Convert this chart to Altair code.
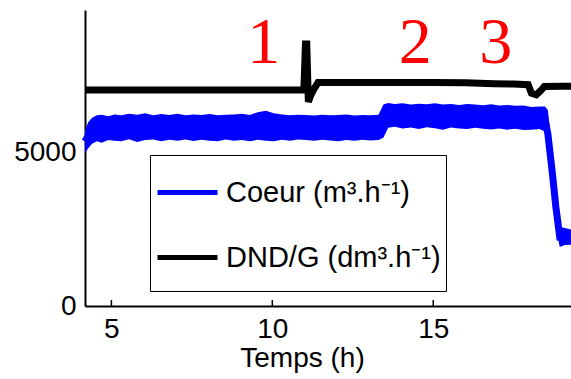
import altair as alt
import pandas as pd

# ---------------- data ----------------
t_blue = [4.18, 4.28, 4.40, 4.55, 4.70, 4.90, 5.10, 5.30, 5.55, 5.80, 6.05, 6.30,
          6.55, 6.80, 7.05, 7.30, 7.55, 7.80, 8.05, 8.30, 8.55, 8.80, 9.05, 9.30,
          9.55, 9.80, 10.05, 10.30, 10.55, 10.80, 11.05, 11.30, 11.55, 11.80, 12.05,
          12.30, 12.55, 12.80, 13.05, 13.30, 13.45, 13.60, 13.80, 14.05, 14.30, 14.55,
          14.80, 15.05, 15.30, 15.55, 15.80, 16.05, 16.30, 16.55, 16.80, 17.05, 17.30,
          17.55, 17.80, 18.05, 18.30, 18.47, 18.56, 18.69, 18.81, 18.93, 19.09, 19.28]
blue_top = [5750, 6000, 6150, 6230, 6250, 6200, 6260, 6230, 6280, 6250, 6300, 6230,
            6270, 6240, 6280, 6230, 6260, 6240, 6270, 6230, 6250, 6260, 6280, 6240,
            6330, 6380, 6300, 6260, 6230, 6250, 6240, 6220, 6250, 6230, 6240,
            6260, 6220, 6240, 6230, 6250, 6580, 6630, 6600, 6620, 6580, 6610,
            6590, 6620, 6580, 6600, 6570, 6600, 6580, 6560, 6590, 6550, 6570,
            6540, 6550, 6500, 6520, 6520, 6400, 5200, 3890, 2580, 2550, 2500]
blue_bottom = [5000, 5150, 5300, 5380, 5330, 5420, 5400, 5380, 5450, 5360, 5420, 5440,
               5380, 5430, 5400, 5440, 5390, 5430, 5400, 5380, 5440, 5400, 5420, 5380,
               5430, 5400, 5380, 5430, 5400, 5440, 5420, 5400, 5430, 5410, 5380,
               5420, 5400, 5430, 5410, 5420, 5500, 5820, 5860, 5800, 5830, 5780,
               5840, 5810, 5760, 5830, 5800, 5780, 5820, 5790, 5770, 5800, 5760,
               5790, 5750, 5760, 5780, 5700, 4870, 3690, 2580, 1930, 1990, 2000]

t_black = [4.18, 5.0, 6.0, 7.0, 8.0, 9.0, 10.0, 10.98, 11.03, 11.07, 11.12, 11.20,
           11.30, 11.42, 12.0, 13.0, 14.0, 15.0, 16.0, 16.9, 17.5, 17.95, 18.05, 18.2,
           18.35, 18.45, 19.0, 19.28]
v_black = [7060, 7060, 7060, 7060, 7060, 7060, 7060, 7060, 8560, 8560, 6670, 6900,
           7100, 7300, 7300, 7300, 7300, 7300, 7290, 7260, 7250, 7230, 6950, 6900,
           7050, 7170, 7180, 7180]

series_names = ["Coeur (m³.h⁻¹)", "DND/G (dm³.h⁻¹)"]
series_colors = ["#0000ff", "#000000"]

ann_text = ["1", "2", "3"]
ann_t = [9.73, 14.44, 16.94]
ann_v = [7950, 7950, 7950]

x_ticks = [5, 10, 15]
y_ticks = [0, 5000]
x_domain = [4.18, 19.28]
y_domain = [0, 9670]

# ---------------- tables ----------------
band = pd.DataFrame({"t": t_blue, "top": blue_top, "bottom": blue_bottom})
lines = pd.concat([
    pd.DataFrame({"t": t_blue,
                  "v": [(a + b) / 2 for a, b in zip(blue_top, blue_bottom)],
                  "s": series_names[0]}),
    pd.DataFrame({"t": t_black, "v": v_black, "s": series_names[1]}),
])
ann = pd.DataFrame({"t": ann_t, "v": ann_v, "txt": ann_text})
ticks = pd.DataFrame({"t": x_ticks})

W, H = 486, 296

xs = alt.Scale(domain=x_domain, nice=False, zero=False)
ys = alt.Scale(domain=y_domain, nice=False, zero=False)

x_axis = alt.Axis(values=x_ticks, title="Temps (h)", ticks=False, grid=False,
                  labelPadding=9, titleX=217, titleY=38, titleBaseline="top",
                  titleAnchor="start", titleAlign="center", format="d")
y_axis = alt.Axis(values=y_ticks, title=None, ticks=False, grid=False, labelPadding=9,
                  format="d")

area = alt.Chart(band).mark_area(color="#0000ff", opacity=1).encode(
    x=alt.X("t:Q", scale=xs, axis=x_axis),
    y=alt.Y("top:Q", scale=ys, axis=y_axis),
    y2="bottom:Q",
)

line = alt.Chart(lines).mark_line(strokeWidth=7).encode(
    x=alt.X("t:Q", scale=xs),
    y=alt.Y("v:Q", scale=ys),
    color=alt.Color("s:N", sort=series_names,
                    scale=alt.Scale(domain=series_names, range=series_colors),
                    legend=alt.Legend(title=" ", titleOrient="bottom", titleFontSize=8,
                                      titlePadding=5,
                                      orient="none", legendX=65, legendY=145,
                                      symbolType="stroke", symbolSize=3600,
                                      symbolStrokeWidth=5, labelFontSize=29,
                                      labelFont="Liberation Sans", labelColor="black",
                                      labelOffset=6, rowPadding=17, padding=5,
                                      strokeColor="black", fillColor="white",
                                      labelLimit=400)),
    detail="s:N",
)

texts = alt.Chart(ann).mark_text(font="Liberation Serif", fontSize=66, color="#ff0000",
                                 baseline="alphabetic", align="center").encode(
    x=alt.X("t:Q", scale=xs), y=alt.Y("v:Q", scale=ys), text="txt:N")

tickmarks = alt.Chart(ticks).mark_rule(color="black", strokeWidth=1.5).encode(
    x=alt.X("t:Q", scale=xs), y=alt.value(H), y2=alt.value(H - 6))

chart = alt.layer(area, line, texts, tickmarks).properties(
    width=W, height=H,
    background="white",
    autosize=alt.AutoSizeParams(type="none"),
    padding={"left": 85, "top": 10, "right": 0, "bottom": 73},
).configure_view(stroke=None).configure_axis(
    domainColor="black", domainWidth=2, labelFont="Liberation Sans", labelFontSize=28,
    labelColor="black", titleFont="Liberation Sans", titleFontSize=28,
    titleFontWeight="normal", titleColor="black",
)

chart.save("out.html", embed_options={"renderer": "svg", "actions": False})
